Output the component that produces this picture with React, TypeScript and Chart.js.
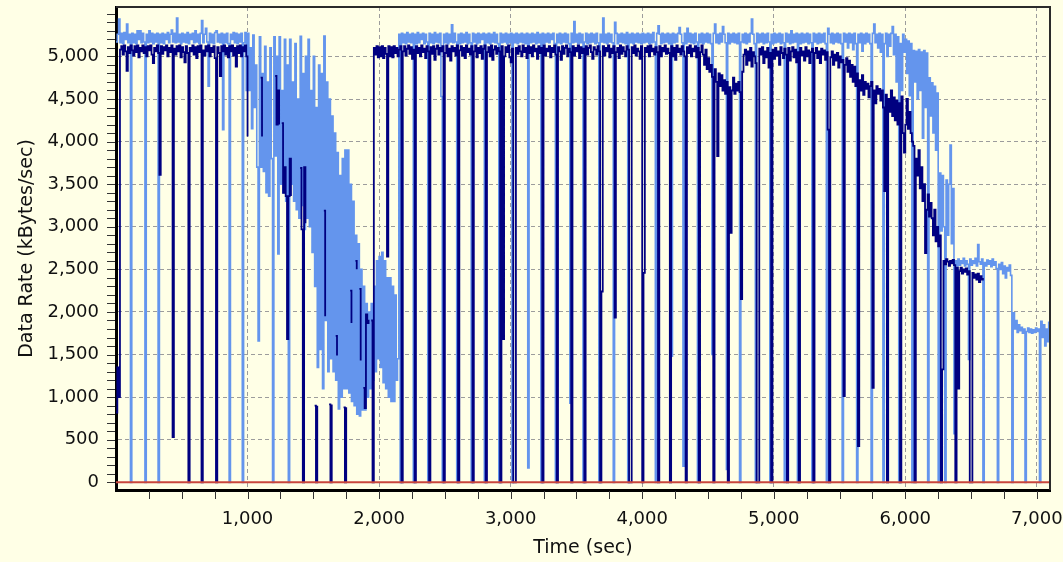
import React, { useEffect, useRef } from 'react';
import { Chart, registerables } from 'chart.js';

Chart.register(...registerables);

// ---- data (sampled every 10 s, values in kBytes/sec; null = not visible / no sample) ----
const SAMPLE_SEC = 10;

const xTickValues = [1000, 2000, 3000, 4000, 5000, 6000, 7000];
const yTickValues = [0, 500, 1000, 1500, 2000, 2500, 3000, 3500, 4000, 4500, 5000];

const zeroLineTimes = [0, 7100];
const zeroLineValues = [0, 0];

// light series, t = 0 .. 990 s
const lightRate0 = [
  5170,5260,5440,5160,5270,5150,5280,5200,5380,5160,
  5260,0,5270,5160,5260,5150,5300,5200,5300,5160,
  5270,5170,0,5260,5160,5300,5170,5270,5150,5260,
  5170,5270,0,5260,5160,5270,5150,5260,5200,5280,
  5160,5260,5310,5170,5270,5160,5450,5170,5260,5150,
  5270,5170,5260,5160,5280,5150,5260,5200,5270,5160,
  5300,5170,5260,5150,5270,5420,5160,5260,5330,5170,
  4650,5270,5160,5260,5150,5280,5300,5170,5260,5160,
  5270,4140,5260,5160,5270,5150,0,5260,5200,5280,
  5160,5270,5150,5260,5170,5270,0,5160,5280,4600,
];
// light series, t = 1000 .. 1990 s
const lightRate1 = [
  5270,4600,5100,4150,5250,4400,4900,3700,1660,5230,
  3700,4800,3650,5120,3400,4700,3360,5100,3800,0,
  5230,3830,5000,2680,5230,3500,4600,3400,5200,3300,
  4900,0,5200,3500,4700,3300,5150,3200,4500,3100,
  5235,3250,4800,2970,5000,3100,5200,3000,4600,2700,
  5000,2300,4400,1350,4900,1560,4800,1100,5240,1900,
  4700,1300,4500,1450,4300,1300,4100,1200,3870,860,
  3600,1000,3800,1100,3900,1100,3900,1050,3500,950,
  3300,900,2900,800,2800,780,2500,850,2300,850,
  2100,1000,2000,1100,2100,1200,2300,1300,2600,1450,
];
// light series, t = 2000 .. 2990 s
const lightRate2 = [
  2650,1350,2700,1170,2600,1100,2400,1000,2400,950,
  2300,950,2200,1200,1450,5260,0,5270,5160,5260,
  5150,5280,5170,5260,5160,5270,0,5260,5150,5280,
  5160,5260,5200,5270,5150,5260,5170,0,5270,5160,
  5260,5150,5280,5170,5260,5160,5270,4530,0,5260,
  5160,5270,5150,5260,5170,5370,5160,5270,5170,0,
  5260,5150,5270,5160,5260,5170,5280,5150,5260,5160,
  0,5270,5170,5260,5150,5270,5160,5260,5200,5270,
  0,5260,5160,5270,5150,5260,5170,5280,5160,5260,
  5150,0,5270,5160,5260,5170,5270,5150,5260,5160,
];
// light series, t = 3000 .. 3990 s
const lightRate3 = [
  5270,0,5260,5160,5270,5150,5260,5170,5270,5160,
  5260,5150,5270,170,5260,5160,5270,5170,5260,5150,
  5280,5160,5260,0,5270,5150,5260,5170,5270,5160,
  5260,5200,5270,5150,0,5260,5160,5270,5150,5260,
  5170,5270,5160,5260,5150,930,5270,5160,5410,5170,
  5260,5150,5270,5160,5260,0,5170,5270,5150,5260,
  5160,5270,5170,5260,5150,5270,5160,0,5260,5170,
  5450,5160,5260,5150,5270,5170,5260,5160,0,5400,
  5270,5150,5260,5170,5270,5160,5260,5150,5280,0,
  5260,5160,5270,5150,5260,5170,5270,5160,5260,5150,
];
// light series, t = 4000 .. 4990 s
const lightRate4 = [
  5270,5160,5260,5170,5270,5150,5260,5160,5280,5170,
  0,5270,5360,5260,5150,5270,5160,5260,5170,5270,
  5150,5260,1480,5270,5160,5260,5170,5270,5340,5260,
  5160,190,5270,5150,5330,5170,5270,5160,5260,5150,
  5270,5170,0,5260,5160,5270,5150,5260,5170,5270,
  5160,5260,5150,1500,5270,5380,5160,5260,5150,5270,
  5170,5350,5260,5160,150,5270,5150,5260,5170,5270,
  5160,5260,5150,5270,0,5170,5260,5160,5270,5150,
  5260,5170,5270,5440,5260,5150,0,5270,5160,5260,
  5170,5270,5150,5260,5160,5270,5170,0,5260,5150,
];
// light series, t = 5000 .. 5990 s
const lightRate5 = [
  5270,5160,5260,5170,5270,5150,5260,5160,0,5270,
  5170,5260,5150,5300,5160,5260,5170,5270,0,5260,
  5150,5270,5160,5260,5170,5270,5150,5260,5160,0,
  5270,5170,5260,5150,5270,5160,5260,5170,5270,5150,
  0,5330,5260,5160,5270,5150,5260,5170,5270,5160,
  5260,5150,0,5270,5170,5260,5100,5270,5160,5260,
  5080,5270,5150,0,5260,5160,5270,5060,5260,5150,
  5270,5170,5260,5150,0,5270,5380,5160,5260,5100,
  5270,5050,5260,0,5150,5270,5000,5260,5120,5270,
  5350,5020,5260,4700,5230,0,5150,4600,5260,5050,
];
// light series, t = 6000 .. 7100 s
const lightRate6 = [
  5200,4800,5180,4540,5150,0,5070,4700,5060,4500,
  5080,4600,5050,4040,5070,4400,5040,0,4750,4300,
  4690,4100,4650,3900,4570,0,3630,2950,3600,3000,
  0,3550,2900,3500,3960,2800,3450,570,2600,2540,
  2620,2550,2600,2570,2630,2540,2600,2560,1443,2620,
  2550,2600,2570,2630,2540,2790,2590,2560,2620,0,
  2580,2540,2610,2560,2600,2530,2620,2550,2590,2510,
  0,2560,2500,2580,2450,2540,2400,2520,2480,2550,
  2430,0,1990,1800,1900,1760,1850,1780,1820,1750,
  1800,0,1770,1810,1760,1800,1750,1790,1760,1810,
  1770,1800,0,1890,1700,1850,1600,1800,1650,1880,
  1620,
];

// dark series, t = 0 .. 990 s
const darkRate0 = [
  820,1350,1000,5080,5120,5020,5130,5060,4830,5110,
  5040,5130,5070,5010,5120,5050,5130,4990,5100,5060,
  5130,5040,5110,5000,5120,5070,5130,5020,4920,5100,
  5060,5130,5040,3610,5120,5030,5110,5070,5130,5000,
  5100,5050,5130,530,5090,5020,5120,5060,5130,4990,
  5110,5050,4930,5120,5040,0,5100,5060,5130,5020,
  5110,4980,5120,5050,5130,0,5070,5010,5120,5060,
  5130,5000,5100,5050,5120,4980,0,5110,5040,4770,
  5120,5060,5130,5020,5100,4990,5120,5060,5130,5010,
  5100,4880,5120,5040,5130,5000,5110,5060,5130,5000,
];
// dark series, t = 1000 .. 1990 s (only the parts that show through the light band)
const darkRate1 = [
  4060,null,null,null,null,null,null,null,null,null,
  4750,4060,null,null,null,null,null,null,null,null,
  null,4770,4200,4600,4200,null,4217,3397,3700,3360,
  1680,3360,3800,3360,null,null,null,null,null,null,
  3690,2970,0,3700,3040,null,null,null,null,null,
  null,900,0,900,null,null,null,null,3190,1950,
  null,null,915,0,915,null,null,1720,1490,null,
  null,null,null,880,0,880,null,null,2250,1870,
  null,null,2600,2500,null,2270,1430,null,1110,870,
  1970,1870,1910,null,1900,0,5100,5020,5120,4990,
];
// dark series, t = 2000 .. 2990 s
const darkRate2 = [
  5110,5000,5120,4980,5100,5030,2650,5120,5000,5110,
  4990,5120,5040,5100,5000,5080,5120,0,5060,5120,
  5010,5090,5130,5030,5110,4970,5080,0,5120,5040,
  5100,5000,5130,5050,5090,4980,5120,5060,0,5110,
  5030,5120,4960,5090,5130,5020,5100,5060,5120,0,
  5040,5130,5000,5090,4950,5120,5060,5100,5010,5130,
  0,5070,5120,5010,5100,4980,5130,5050,5090,5020,
  5120,0,5060,5130,4990,5100,5040,5120,4970,5090,
  5130,0,5050,5110,5000,5130,4960,5080,5120,5030,
  5100,5060,0,5120,1680,5000,5110,5050,5130,4990,
];
// dark series, t = 3000 .. 3990 s
const darkRate3 = [
  4930,5090,0,0,5100,5030,5120,5060,5000,5130,
  5050,5100,4980,5120,5040,5110,5000,5130,5060,5090,
  4970,5120,5040,5100,0,5130,5010,5090,5060,5120,
  4990,5100,5050,5130,5020,0,5110,5060,4960,5120,
  5030,5100,5130,5000,5090,5050,0,5120,5010,5100,
  5060,5130,4980,5110,5040,5090,0,5120,5020,5100,
  5130,5050,4970,5110,5080,5020,5120,5060,0,2240,
  5120,5010,5100,5060,5130,4990,5090,5040,5120,1935,
  5050,5100,4980,5130,5030,5110,5060,5000,5120,5080,
  0,0,5110,5040,5130,5010,5090,5060,4970,5120,
];
// dark series, t = 4000 .. 4990 s
const darkRate4 = [
  0,2460,5100,5050,5120,5000,5130,5060,5090,5020,
  5110,5050,0,5120,5000,5100,5060,5130,5030,5090,
  5040,0,5120,5000,5100,4960,5130,5050,5090,5020,
  5120,5060,5000,0,5110,5040,5130,5000,5090,5060,
  5120,4990,5100,0,5050,5130,5020,4900,5080,4850,
  4980,4820,4900,4760,0,4850,4700,3830,4800,4650,
  4780,4600,4720,4560,4700,0,4640,2930,4600,4750,
  4560,4680,4600,4700,4580,2150,4820,5020,5080,4900,
  5060,4950,5100,4880,5050,5000,4920,0,0,5090,
  5020,5110,4920,5060,4990,5100,4870,5040,0,5080,
];
// dark series, t = 5000 .. 5990 s
const darkRate5 = [
  4970,5100,5010,5060,4900,5110,5040,4980,5090,5020,
  0,5100,4950,5060,5110,4990,5080,4930,5050,0,
  5100,5010,5060,4950,5110,5000,5070,4920,5050,5090,
  0,5040,5100,4980,5060,4920,5090,5020,5070,4960,
  5050,4140,0,4990,5060,4900,5020,4950,5040,4870,
  5000,4930,4960,1012,4900,4980,4820,4950,4760,4900,
  4700,4880,4650,4800,426,4720,4600,4780,4550,4700,
  4620,4680,4520,4650,4700,1110,4600,4450,4650,4560,
  4620,4480,4600,4400,3420,4550,0,4500,4350,4600,
  4300,4520,4250,4480,4200,4450,0,4530,4100,3870,
];
// dark series, t = 6000 .. 6590 s
const darkRate6 = [
  4200,4500,4150,4350,4100,4000,3950,0,3800,3600,
  3900,3450,3700,3300,3500,2690,3200,3380,3120,3280,
  3100,2900,3200,2830,3000,2770,2900,0,1325,2600,
  2560,2620,2590,2540,2600,2570,2610,2550,0,2520,
  1100,2480,2520,2450,2500,2470,2510,2440,2480,0,
  0,2460,2400,2440,2380,2450,2350,2420,2380,2400,
];

const lightRate = [
  ...lightRate0, ...lightRate1, ...lightRate2, ...lightRate3,
  ...lightRate4, ...lightRate5, ...lightRate6,
];
const darkRate = [
  ...darkRate0, ...darkRate1, ...darkRate2, ...darkRate3,
  ...darkRate4, ...darkRate5, ...darkRate6,
];

// ---- styling ----
const BG = '#FFFFE6';
const LIGHT = '#6495ED';
const DARK = '#000080';
const ZERO_RED = '#C8463C';
const FONT = 'DejaVu Sans';
const X_MINOR_STEP = 250;
const Y_MINOR_STEP = 100;

const toPoints = (vals: (number | null)[]) => vals.map((v, i) => ({ x: i * SAMPLE_SEC, y: v }));

const frameAndTicks = {
  id: 'frameAndTicks',
  afterDraw(chart: any) {
    const { ctx, chartArea: a, scales } = chart;
    const xs = scales.x;
    const ys = scales.y;
    ctx.save();
    ctx.strokeStyle = '#2b2b2b';
    ctx.lineWidth = 2;
    ctx.beginPath();
    ctx.moveTo(a.left, a.top);
    ctx.lineTo(a.right, a.top);
    ctx.lineTo(a.right, a.bottom);
    ctx.stroke();
    ctx.strokeStyle = '#333';
    ctx.lineWidth = 1;
    ctx.beginPath();
    for (let v = X_MINOR_STEP; v <= xs.max; v += X_MINOR_STEP) {
      const px = Math.round(xs.getPixelForValue(v)) + 0.5;
      ctx.moveTo(px, a.bottom + 1);
      ctx.lineTo(px, a.bottom + 9);
    }
    for (let v = 0; v <= ys.max; v += Y_MINOR_STEP) {
      const py = Math.round(ys.getPixelForValue(v)) + 0.5;
      ctx.moveTo(a.left - 9, py);
      ctx.lineTo(a.left - 1, py);
    }
    ctx.stroke();
    ctx.restore();
  },
};

const zeroPadding = (s: any) => {
  s.paddingLeft = 0;
  s.paddingRight = 0;
  s.paddingTop = 0;
  s.paddingBottom = 0;
};

export default function App() {
  const ref = useRef<HTMLCanvasElement>(null);

  useEffect(() => {
    document.body.style.margin = '0';
    document.body.style.background = BG;
    const canvas = ref.current;
    if (!canvas) return;
    const chart = new Chart(canvas, {
      type: 'line',
      data: {
        datasets: [
          {
            label: 'zero',
            data: zeroLineTimes.map((t, i) => ({ x: t, y: zeroLineValues[i] })),
            borderColor: ZERO_RED,
            borderWidth: 2,
            pointRadius: 0,
            order: 0,
          },
          {
            label: 'Dark',
            data: toPoints(darkRate),
            borderColor: DARK,
            borderWidth: 1.8,
            pointRadius: 0,
            stepped: true,
            spanGaps: false,
            order: 1,
          },
          {
            label: 'Light',
            data: toPoints(lightRate),
            borderColor: LIGHT,
            borderWidth: 1.6,
            pointRadius: 0,
            stepped: true,
            order: 2,
          },
        ],
      },
      options: {
        responsive: false,
        animation: false,
        devicePixelRatio: 1,
        events: [],
        layout: { padding: { left: 0, top: 7, right: 13, bottom: 0 } },
        plugins: { legend: { display: false }, tooltip: { enabled: false } },
        elements: { line: { tension: 0, fill: false } },
        scales: {
          x: {
            type: 'linear',
            min: 0,
            max: 7100,
            afterFit: (s: any) => { s.height = 72; zeroPadding(s); },
            afterBuildTicks: (s: any) => { s.ticks = xTickValues.map((v) => ({ value: v })); },
            grid: { color: '#9c9c9c', lineWidth: 1, drawTicks: false },
            border: { color: '#000', width: 3, dash: [4, 3] },
            ticks: {
              padding: 19,
              color: '#111',
              font: { family: FONT, size: 18 },
              maxRotation: 0,
              autoSkip: false,
              callback: (v: any) => Number(v).toLocaleString('en-US'),
            },
            title: {
              display: true,
              text: 'Time (sec)',
              color: '#111',
              font: { family: FONT, size: 19 },
              padding: { top: 0, bottom: 3 },
            },
          },
          y: {
            type: 'linear',
            min: -90,
            max: 5580,
            afterFit: (s: any) => { s.width = 116; zeroPadding(s); },
            afterBuildTicks: (s: any) => { s.ticks = yTickValues.map((v) => ({ value: v })); },
            grid: { color: '#9c9c9c', lineWidth: 1, drawTicks: false },
            border: { color: '#000', width: 3, dash: [4, 3] },
            ticks: {
              padding: 17,
              color: '#111',
              font: { family: FONT, size: 18 },
              autoSkip: false,
              callback: (v: any) => Number(v).toLocaleString('en-US'),
            },
            title: {
              display: true,
              text: 'Data Rate (kBytes/sec)',
              color: '#111',
              font: { family: FONT, size: 19 },
              padding: { top: 16, bottom: 0 },
            },
          },
        },
      },
      plugins: [frameAndTicks],
    } as any);
    return () => chart.destroy();
  }, []);

  return (
    <div style={{ position: 'fixed', left: 0, top: 0, width: 1063, height: 562, background: BG }}>
      <canvas ref={ref} width={1063} height={562} style={{ display: 'block' }} />
    </div>
  );
}
